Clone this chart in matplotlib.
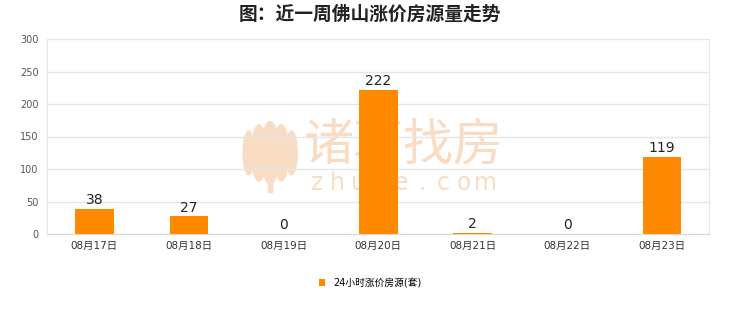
import matplotlib.pyplot as plt
from matplotlib.patches import Ellipse
import numpy as np

plt.rcParams['font.family'] = ['DejaVu Sans', 'Noto Sans CJK SC']

dates = ["08月17日", "08月18日", "08月19日", "08月20日", "08月21日", "08月22日", "08月23日"]
counts = [38, 27, 0, 222, 2, 0, 119]
series_name = "24小时涨价房源(套)"

bar_color = "#ff8a00"
grid_color = "#e6e6e6"
mark_color = "#f8dcc4"

fig = plt.figure(figsize=(7.4, 3.12), dpi=100)
ax = fig.add_axes([0.0635, 0.25, 0.895, 0.625])

# watermark (behind everything)
fig.text(0.545, 0.535, "诸葛找房", fontsize=36, color=mark_color, ha="center", va="center",
         family=["Noto Sans CJK SC"], zorder=-5)
for i, ch in enumerate("zhuge.com"):
    fig.text(0.428 + i * 0.0285, 0.415, ch, fontsize=17, color=mark_color, ha="center",
             va="center", zorder=-5)
for cx, w, h in [(0.365, 0.024, 0.2), (0.350, 0.02, 0.18), (0.380, 0.02, 0.18),
                 (0.336, 0.015, 0.14), (0.394, 0.015, 0.14)]:
    fig.patches.append(Ellipse((cx, 0.51), w, h, transform=fig.transFigure,
                               color=mark_color, zorder=-5))
fig.patches.append(plt.Rectangle((0.362, 0.385), 0.006, 0.05, transform=fig.transFigure,
                                 color=mark_color, zorder=-5))
ax.patch.set_alpha(0)

x = np.arange(len(dates))
bars = ax.bar(x, counts, width=0.41, color=bar_color, label=series_name, zorder=3)

for xi, v in zip(x, counts):
    ax.text(xi, v + 3, str(v), ha="center", va="bottom", fontsize=10, color="#222222", zorder=4)

ax.set_xlim(-0.5, len(dates) - 0.5)
ax.set_ylim(0, 300)
ax.set_yticks(range(0, 301, 50))
ax.set_xticks(x)
ax.set_xticklabels(dates, fontsize=7.5, color="#333333")
ax.tick_params(axis="y", labelsize=7, colors="#555555", length=0, pad=6)
ax.tick_params(axis="x", length=0, pad=5)
ax.grid(axis="y", color=grid_color, linewidth=1, zorder=0)
ax.spines["top"].set_visible(False)
ax.spines["right"].set_color(grid_color)
ax.spines["left"].set_color(grid_color)
ax.spines["bottom"].set_color("#d8d8d8")

fig.suptitle("图：近一周佛山涨价房源量走势", fontsize=13.5, fontweight="bold", y=0.985,
             color="#222222", family=["Noto Sans CJK SC"])

fig.legend(loc="lower center", bbox_to_anchor=(0.5, 0.05), frameon=False, fontsize=7,
           handlelength=0.7, handleheight=0.7, handletextpad=0.8)

fig.savefig("out.png", dpi=100)
